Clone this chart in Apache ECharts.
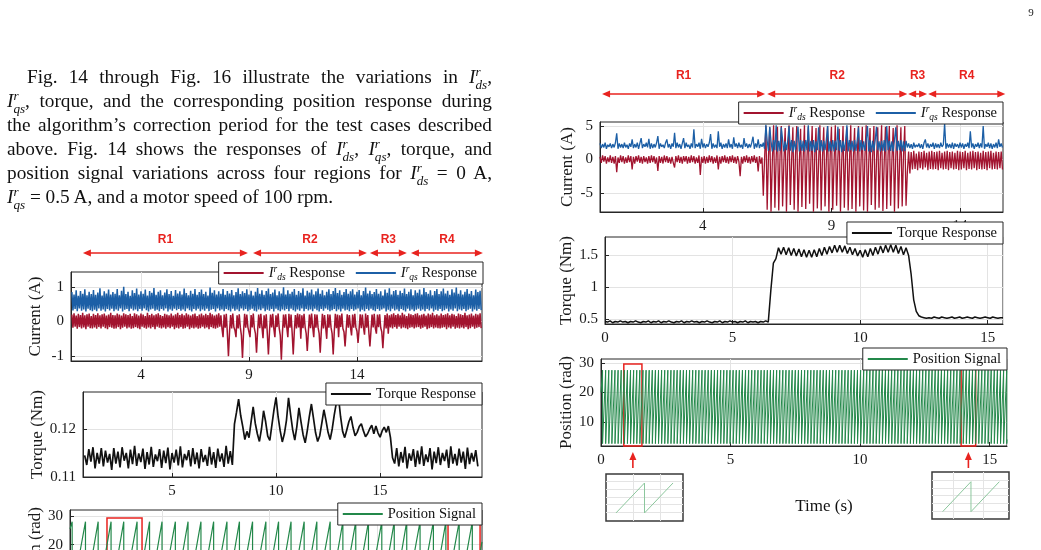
<!DOCTYPE html>
<html>
<head>
<meta charset="utf-8">
<script src="https://cdn.jsdelivr.net/npm/echarts@6/dist/echarts.min.js"></script>
<style>
html, body { margin: 0; padding: 0; background: #fff; }
#container { position: absolute; left: 0; top: 0; width: 1041px; height: 550px; }
#para { position: absolute; left: 7px; top: 65px; width: 485px; font-family: "Liberation Serif", "Times New Roman", serif; font-size: 19.3px; color: #111; }
#para .ln { height: 24px; line-height: 24px; text-align: justify; text-align-last: justify; }
#para .ind { text-indent: 20px; }
#para .last { text-align-last: left; }
.ix { display: inline-flex; flex-direction: column; font-size: 0.68em; line-height: 0.92; vertical-align: 0.5em; font-style: italic; text-indent: 0; }
</style>
</head>
<body>
<div id="container"></div>
<div id="para">
<div class="ln ind">Fig. 14 through Fig. 16 illustrate the variations in <i>I</i><span class="ix"><span>r</span><span>ds</span></span>,</div>
<div class="ln"><i>I</i><span class="ix"><span>r</span><span>qs</span></span>, torque, and the corresponding position response during</div>
<div class="ln">the algorithm’s correction period for the test cases described</div>
<div class="ln">above. Fig. 14 shows the responses of <i>I</i><span class="ix"><span>r</span><span>ds</span></span>, <i>I</i><span class="ix"><span>r</span><span>qs</span></span>, torque, and</div>
<div class="ln">position signal variations across four regions for <i>I</i><span class="ix"><span>r</span><span>ds</span></span> = 0 A,</div>
<div class="ln last"><i>I</i><span class="ix"><span>r</span><span>qs</span></span> = 0.5 A, and a motor speed of 100 rpm.</div>
</div>
<script>
// ---------- right figure: currents sampled every 0.05 s from t = 0 ----------
var tStepCurR = 0.05;
var idsR = [
  0.4,-0.5,0.6,-0.3,0.5,-0.6,0.3,-0.4,0.6,-0.5,0.4,-0.6,0.5,-1.9,0.3,-0.5,0.6,-0.4,0.5,-0.6,
  0.3,-0.5,0.6,-0.4,0.5,-1.5,0.4,-0.6,0.5,-0.3,0.6,-0.5,0.4,-0.6,0.5,-0.4,0.3,-0.6,0.5,-0.5,
  0.6,-0.4,0.5,-0.6,0.3,-1.7,0.5,-0.5,0.4,-0.6,0.6,-0.4,0.5,-0.5,0.3,-0.6,0.4,-0.5,-1.2,0.5,
  -0.4,0.6,-0.5,0.4,-0.6,0.5,-0.3,0.5,-0.6,0.4,-0.5,0.6,-0.4,0.5,-0.6,0.3,-0.5,0.6,-2.3,0.4,
  -0.5,0.5,-0.6,0.4,-0.5,0.6,-0.4,0.5,-0.6,0.3,-0.5,0.6,-1.5,0.4,-0.6,0.5,-0.4,0.6,-0.5,0.4,
  -0.6,0.5,-0.4,0.6,-0.5,0.4,-0.6,0.5,-0.3,-2.5,0.4,-0.6,0.5,-0.4,0.6,-0.5,0.4,-0.6,0.5,-0.4,
  0.6,-0.5,0.4,-1.8,0.5,-0.6,0.3,-5.4,0.2,5.0,-7.5,0.4,4.8,-7.8,-0.3,5.1,-7.2,0.3,4.9,-7.6,
  0.5,5.0,-7.0,-0.4,4.7,-7.8,0.3,5.1,-6.8,-0.2,4.8,-7.5,0.6,5.0,-7.8,-0.5,4.6,-7.1,0.2,5.1,
  -7.4,0.4,4.9,-6.6,-0.3,5.0,-7.8,0.5,4.7,-7.3,-0.4,5.1,-7.6,0.3,4.8,-7.0,-0.2,5.0,-7.8,0.6,
  4.9,-7.5,-0.5,5.1,-6.9,0.2,4.6,-7.8,-0.3,5.0,-7.2,0.4,4.8,-7.6,-0.4,5.1,-7.4,0.3,4.7,-7.8,
  0.5,5.0,-7.0,-0.2,4.9,-7.6,0.3,5.1,-7.8,-0.5,4.7,-6.8,0.4,5.0,-7.5,-0.3,4.8,-7.2,0.2,5.1,
  -7.7,-0.4,4.9,-7.4,0.5,5.0,-6.9,-0.2,4.7,-7.8,0.3,5.1,-7.3,-0.5,4.8,-7.0,0.4,5.0,-6.9,-2.0,
  1.2,-2.1,1.1,-1.5,1.3,-1.4,0.9,-1.6,1.2,-1.3,1.1,-1.5,1.3,-1.2,1.0,-1.6,1.2,-1.4,1.3,-1.5,
  1.1,-1.4,1.2,-1.6,1.3,-1.3,1.0,-1.5,1.2,-1.4,1.3,-1.6,1.1,-1.3,1.2,-1.5,1.0,-1.4,1.3,-1.6,
  1.2,-1.5,1.1,-1.3,1.3,-1.6,1.0,-1.4,1.2,-1.5,1.3,-1.3,1.1,-1.6,1.2,-1.4,1.0,-1.5,1.3,-1.4,
  1.1,-1.6,1.2,-1.3,1.3,-1.5,1.0,-1.4,1.2,-1.5,1.1,-1.3,1.2,-1.5
];
var iqsR = [
  2.4,1.7,2.3,1.8,2.5,1.6,2.2,1.9,2.4,1.7,2.3,1.8,2.5,3.9,1.6,2.4,1.8,2.3,1.7,2.5,
  1.8,2.2,1.6,2.4,1.9,3.0,1.7,2.3,1.8,2.5,1.6,2.4,3.2,1.7,2.3,1.9,2.5,1.8,3.1,1.6,
  2.4,1.7,2.3,1.8,2.5,3.5,1.6,2.4,1.9,2.2,1.7,2.5,3.0,1.8,2.3,1.6,2.4,1.9,4.0,1.7,
  2.5,1.8,2.3,1.6,2.4,3.2,1.7,2.5,1.9,2.2,1.6,2.4,1.8,4.5,1.7,2.3,1.9,2.5,1.6,3.1,
  1.8,2.4,1.7,2.3,1.9,2.5,3.8,1.6,2.4,1.8,2.2,1.7,4.2,1.9,2.5,1.6,2.3,1.8,2.4,1.7,
  3.0,1.8,2.3,1.6,3.3,1.9,2.4,1.7,2.5,1.8,2.2,1.6,3.2,1.9,2.4,1.7,2.3,1.8,2.5,3.4,
  1.6,2.4,1.8,3.0,1.7,2.3,1.9,2.5,1.6,5.2,2.8,1.3,4.9,2.7,1.2,2.9,1.4,5.1,1.2,2.8,
  1.3,4.8,2.9,1.2,2.7,1.4,2.8,5.0,1.3,2.9,1.1,2.8,1.4,2.7,4.9,1.2,2.9,1.3,2.8,1.2,
  2.9,1.4,5.1,1.2,2.8,1.3,2.9,1.1,2.7,1.4,4.8,1.3,2.9,1.2,2.8,1.4,2.9,5.0,1.2,2.7,
  1.3,2.9,1.2,2.8,1.4,4.9,1.3,2.9,1.1,2.8,1.3,2.7,5.1,1.2,2.9,1.4,2.8,1.2,2.9,1.3,
  2.8,4.8,1.2,2.9,1.4,2.7,1.3,2.8,5.0,1.2,2.9,1.1,2.8,1.3,2.9,4.9,1.4,2.7,1.2,2.8,
  1.3,2.9,1.2,5.0,1.4,2.8,1.3,2.7,1.2,2.9,4.8,1.3,2.8,1.4,2.9,1.2,2.7,1.3,2.8,1.8,
  2.4,1.7,2.3,1.6,2.5,1.8,2.2,1.9,2.4,1.7,2.3,1.6,2.5,3.0,1.8,2.4,1.7,2.3,1.9,2.5,
  1.6,2.4,1.8,2.3,1.7,2.5,1.9,2.2,5.4,1.6,2.4,1.8,2.3,1.7,2.5,1.6,2.4,1.9,2.3,1.7,
  2.5,1.8,2.4,1.6,2.3,1.9,2.5,1.7,4.2,1.8,2.4,1.6,2.3,1.9,2.5,1.7,2.4,1.8,5.0,1.6,
  2.3,1.9,2.5,1.7,2.4,1.6,2.3,1.8,2.5,1.7,3.0,1.9,2.4,1.8
];
// torque sampled every 0.1 s from t = 0
var tStepTqR = 0.1;
var torqueR = [
  0.46,0.45,0.47,0.44,0.46,0.45,0.47,0.45,0.46,0.44,
  0.46,0.45,0.47,0.45,0.44,0.46,0.45,0.47,0.44,0.46,
  0.45,0.47,0.44,0.46,0.45,0.47,0.45,0.44,0.46,0.45,
  0.47,0.44,0.46,0.45,0.47,0.45,0.46,0.44,0.46,0.45,
  0.47,0.45,0.44,0.46,0.45,0.47,0.44,0.46,0.45,0.47,
  0.45,0.46,0.44,0.46,0.45,0.47,0.44,0.46,0.45,0.46,
  0.44,0.46,0.45,0.47,0.45,0.95,1.38,1.45,1.62,1.52,
  1.63,1.51,1.62,1.50,1.61,1.49,1.60,1.48,1.59,1.47,
  1.58,1.47,1.59,1.48,1.61,1.50,1.63,1.52,1.64,1.54,
  1.66,1.55,1.66,1.55,1.65,1.53,1.63,1.51,1.61,1.49,
  1.58,1.47,1.59,1.48,1.61,1.50,1.63,1.52,1.65,1.54,
  1.66,1.55,1.67,1.55,1.66,1.53,1.64,1.51,1.62,1.50,
  1.20,0.80,0.62,0.55,0.53,0.52,0.51,0.52,0.51,0.53,
  0.52,0.51,0.53,0.52,0.51,0.52,0.53,0.51,0.52,0.53,
  0.51,0.52,0.53,0.52,0.51,0.53,0.52,0.51,0.52,0.53,
  0.52,0.51,0.53,0.52,0.51,0.52,0.52
];
// sawtooth position: times where it reaches the top and resets
var posPeakR = [
  0.06,0.18,0.30,0.42,0.54,0.66,0.78,0.90,1.02,1.14,1.26,1.38,1.50,1.62,1.74,1.86,1.98,2.10,2.22,2.34,
  2.46,2.58,2.70,2.82,2.94,3.06,3.18,3.30,3.42,3.54,3.66,3.78,3.90,4.02,4.14,4.26,4.38,4.50,4.62,4.74,
  4.86,4.98,5.10,5.22,5.34,5.46,5.58,5.70,5.82,5.94,6.06,6.18,6.30,6.42,6.54,6.66,6.78,6.90,7.02,7.14,
  7.26,7.38,7.50,7.62,7.74,7.86,7.98,8.10,8.22,8.34,8.46,8.58,8.70,8.82,8.94,9.06,9.18,9.30,9.42,9.54,
  9.66,9.78,9.90,10.02,10.14,10.26,10.38,10.50,10.62,10.74,10.86,10.98,11.10,11.22,11.34,11.46,11.58,11.70,11.82,11.94,
  12.06,12.18,12.30,12.42,12.54,12.66,12.78,12.90,13.02,13.14,13.26,13.38,13.50,13.62,13.74,13.86,13.98,14.10,14.22,14.34,
  14.46,14.58,14.70,14.82,14.94,15.06,15.18,15.30,15.42,15.54,15.66
];
var posLoR = 2.6, posHiR = 27.6;
var posStartR = [0, 20], posEndR = [15.67, 4.0];
// zoom insets (two teeth each)
var insetLT = [0.90, 1.02, 1.02, 1.14];
var insetLV = [2.6, 27.6, 2.6, 27.6];
var insetRT = [14.10, 14.22, 14.22, 14.34];
var insetRV = [2.6, 27.6, 2.6, 27.6];
// red boxes [t0, t1, top]
var boxesR = [[0.88, 1.58, 29.7], [13.9, 14.46, 28.7]];
var regionsR = [[0.08, 6.42], [6.5, 11.95], [11.98, 12.72], [12.76, 15.76]];

// ---------- left figure: currents every 0.05 s from t = 0.8 ----------
var tStartL = 0.8, tStepCurL = 0.05, tStepTqL = 0.1;
var idsL = [
  0.2,-0.18,0.24,-0.15,0.17,-0.21,0.22,-0.16,0.19,-0.2,0.25,-0.17,0.18,-0.22,0.21,-0.15,0.23,-0.19,0.16,-0.2,
  0.22,-0.17,0.19,-0.21,0.24,-0.16,0.18,-0.2,0.21,-0.15,0.23,-0.19,0.17,-0.22,0.2,-0.16,0.25,-0.18,0.19,-0.21,
  0.18,-0.2,0.23,-0.16,0.2,-0.22,0.17,-0.18,0.24,-0.15,0.21,-0.2,0.19,-0.17,0.22,-0.21,0.16,-0.19,0.24,-0.16,
  0.21,-0.19,0.17,-0.22,0.23,-0.15,0.2,-0.18,0.16,-0.21,0.25,-0.17,0.19,-0.2,0.22,-0.16,0.18,-0.22,0.21,-0.15,
  0.24,-0.18,0.19,-0.2,0.16,-0.17,0.22,-0.21,0.2,-0.16,0.18,-0.19,0.23,-0.15,0.17,-0.22,0.21,-0.18,0.25,-0.2,
  0.19,-0.16,0.22,-0.21,0.18,-0.19,0.24,-0.15,0.2,-0.22,0.17,-0.18,0.21,-0.2,0.23,-0.17,0.16,-0.21,0.2,-0.19,
  0.23,-0.15,0.18,-0.2,0.22,-0.17,0.19,-0.22,0.25,-0.16,0.21,-0.19,0.17,-0.21,0.2,-0.18,0.24,-0.15,0.18,-0.2,
  -0.45,0.2,-0.18,0.22,-0.35,-1.0,-0.3,0.19,-0.2,0.23,-0.16,-0.25,-0.45,0.18,-0.2,0.21,-0.17,-0.4,-1.05,-0.3,
  0.22,-0.18,0.2,-0.16,-0.2,-0.45,0.19,-0.17,0.23,-0.2,-0.35,-0.9,-0.28,0.2,-0.19,0.22,-0.15,-0.48,0.18,-0.2,
  0.21,-0.35,-0.95,-0.3,0.2,-0.17,0.22,-0.2,-0.45,0.18,-0.16,0.23,-0.19,-0.4,-1.1,-0.32,0.2,-0.18,0.21,-0.16,
  -0.45,0.22,-0.18,0.2,-0.33,-0.95,-0.28,0.19,-0.2,0.23,-0.17,0.21,-0.5,0.18,-0.19,0.22,-0.16,-0.35,-0.85,-0.3,
  0.2,-0.19,0.23,-0.16,-0.45,0.21,-0.18,0.2,-0.17,-0.35,-0.9,-0.27,0.22,-0.2,0.19,-0.16,-0.5,0.21,-0.18,0.2,
  -0.17,-0.35,-0.95,-0.3,0.22,-0.19,0.2,-0.45,0.18,-0.16,0.23,-0.2,-0.3,-0.72,-0.25,0.21,-0.18,0.19,-0.16,-0.4,
  0.2,-0.18,0.22,-0.17,-0.28,-0.62,-0.22,0.21,-0.19,0.2,-0.16,-0.38,0.23,-0.18,0.19,-0.3,-0.72,-0.26,0.2,-0.17,
  0.22,-0.19,-0.35,0.2,-0.16,0.21,-0.18,-0.3,-0.77,-0.24,0.19,-0.2,0.23,-0.35,0.18,-0.17,0.21,-0.2,0.24,-0.16,
  0.19,-0.21,0.22,-0.15,0.18,-0.2,0.25,-0.17,0.2,-0.19,0.16,-0.22,0.23,-0.18,0.21,-0.16,0.19,-0.2,0.22,-0.17,
  0.24,-0.16,0.18,-0.21,0.2,-0.18,0.22,-0.15,0.17,-0.22,0.23,-0.19,0.2,-0.16,0.25,-0.2,0.18,-0.17,0.21,-0.19,
  0.17,-0.2,0.23,-0.18,0.19,-0.16,0.21,-0.22,0.24,-0.17,0.18,-0.2,0.22,-0.15,0.2,-0.21,0.16,-0.18,0.23,-0.2,
  0.21,-0.17,0.19,-0.2,0.25,-0.16,0.18,-0.22,0.2,-0.19,0.23,-0.15,0.17,-0.21,0.22,-0.18,0.2,-0.16,0.24,-0.19
];
var iqsL = [
  0.85,0.32,0.78,0.36,0.9,0.3,0.74,0.38,0.88,0.31,0.8,0.35,0.93,0.29,0.76,0.37,0.86,0.33,0.79,0.3,
  0.91,0.34,0.77,0.3,0.84,0.38,0.96,0.31,0.75,0.35,0.87,0.29,0.81,0.36,0.92,0.32,0.78,0.37,0.85,0.3,
  0.8,0.35,0.94,0.31,0.76,0.38,0.89,0.29,1.0,0.34,0.79,0.36,0.86,0.3,0.74,0.37,0.9,0.32,0.82,0.35,
  0.95,0.3,0.78,0.36,0.87,0.31,0.8,0.38,0.92,0.33,0.75,0.29,0.88,0.35,0.83,0.37,0.97,0.31,0.77,0.34,
  0.86,0.3,0.9,0.36,0.76,0.32,0.84,0.38,0.93,0.29,0.79,0.35,0.88,0.31,0.74,0.37,0.91,0.33,0.81,0.36,
  0.87,0.31,0.78,0.35,0.95,0.3,0.82,0.38,0.76,0.33,0.89,0.29,0.8,0.36,0.94,0.32,0.77,0.37,0.85,0.3,
  0.92,0.35,0.79,0.31,0.86,0.37,0.75,0.3,0.98,0.34,0.83,0.36,0.9,0.29,0.78,0.38,0.87,0.32,0.8,0.35,
  0.94,0.3,0.77,0.36,0.88,0.33,0.81,0.29,0.91,0.37,0.76,0.31,0.85,0.35,0.96,0.3,0.79,0.38,0.87,0.32,
  0.82,0.36,0.93,0.3,0.78,0.34,0.89,0.37,0.75,0.31,0.86,0.29,0.97,0.35,0.8,0.33,0.9,0.38,0.77,0.3,
  0.88,0.34,0.95,0.31,0.79,0.36,0.84,0.29,0.92,0.37,0.76,0.33,0.87,0.3,0.81,0.35,0.99,0.32,0.78,0.36,
  0.9,0.3,0.8,0.37,0.86,0.33,0.94,0.29,0.77,0.35,0.88,0.31,0.83,0.38,0.96,0.3,0.75,0.36,0.89,0.32,
  0.84,0.35,0.92,0.3,0.78,0.37,0.87,0.33,0.95,0.29,0.8,0.36,0.9,0.31,0.76,0.38,0.86,0.34,0.93,0.3,
  0.79,0.33,0.88,0.36,0.97,0.3,0.82,0.35,0.9,0.29,0.77,0.37,0.85,0.32,0.94,0.34,0.8,0.3,0.87,0.36,
  0.93,0.31,0.78,0.35,0.86,0.38,0.91,0.29,0.76,0.34,0.88,0.3,0.98,0.36,0.81,0.32,0.89,0.37,0.79,0.33,
  0.85,0.3,0.94,0.36,0.8,0.31,0.87,0.35,0.75,0.38,0.92,0.29,0.83,0.34,0.96,0.3,0.78,0.37,0.88,0.32,
  0.91,0.35,0.77,0.3,0.89,0.36,0.82,0.33,0.95,0.29,0.79,0.37,0.86,0.31,0.93,0.35,0.76,0.3,0.9,0.34,
  0.83,0.37,0.92,0.31,0.78,0.35,0.97,0.3,0.85,0.36,0.8,0.32,0.9,0.38,0.76,0.29,0.88,0.34,0.94,0.31,
  0.79,0.36,0.87,0.3,0.95,0.33,0.81,0.37,0.89,0.29,0.77,0.35,0.93,0.31,0.84,0.38,0.98,0.3,0.8,0.35,
  0.9,0.32,0.78,0.36,0.86,0.3,0.94,0.34,0.8,0.37,0.88,0.29,0.76,0.35,0.92,0.31,0.85,0.36,0.89,0.33
];
var torqueL = [
  0.1145,0.1125,0.1158,0.1132,0.1162,0.1118,0.1150,0.1128,0.1160,0.1122,
  0.1155,0.1130,0.1148,0.1115,0.1160,0.1128,0.1153,0.1120,0.1162,0.1134,
  0.1150,0.1118,0.1157,0.1127,0.1165,0.1123,0.1149,0.1131,0.1159,0.1117,
  0.1152,0.1126,0.1163,0.1121,0.1147,0.1133,0.1158,0.1119,0.1155,0.1129,
  0.1161,0.1116,0.1150,0.1130,0.1157,0.1124,0.1164,0.1120,0.1148,0.1135,
  0.1156,0.1122,0.1160,0.1127,0.1151,0.1118,0.1158,0.1131,0.1146,0.1123,
  0.1163,0.1126,0.1152,0.1119,0.1159,0.1132,0.1149,0.1121,0.1165,0.1128,
  0.1154,0.1125,0.1210,0.1235,0.1262,0.1228,0.1205,0.1178,0.1195,0.1182,
  0.1215,0.1246,0.1212,0.1190,0.1174,0.1200,0.1238,0.1215,0.1185,0.1176,
  0.1208,0.1240,0.1266,0.1225,0.1196,0.1173,0.1190,0.1218,0.1265,0.1230,
  0.1198,0.1177,0.1205,0.1244,0.1215,0.1188,0.1171,0.1196,0.1226,0.1252,
  0.1222,0.1192,0.1174,0.1186,0.1212,0.1240,0.1218,0.1193,0.1178,0.1200,
  0.1230,0.1255,0.1267,0.1226,0.1195,0.1182,0.1198,0.1215,0.1226,0.1203,
  0.1186,0.1193,0.1205,0.1211,0.1196,0.1184,0.1190,0.1200,0.1208,0.1190,
  0.1206,0.1192,0.1183,0.1196,0.1204,0.1193,0.1206,0.1182,0.1140,0.1128,
  0.1160,0.1122,0.1152,0.1130,0.1163,0.1118,0.1149,0.1134,0.1158,0.1121,
  0.1155,0.1127,0.1164,0.1123,0.1147,0.1131,0.1160,0.1116,0.1153,0.1129,
  0.1162,0.1125,0.1150,0.1133,0.1157,0.1119,0.1164,0.1128,0.1148,0.1124,
  0.1159,0.1130,0.1153,0.1117,0.1161,0.1127,0.1150,0.1132,0.1156,0.1122
];
var posPeakL = [
  0.82,1.44,2.03,2.63,3.22,3.84,4.42,5.0,5.62,6.21,6.81,7.40,8.02,8.6,9.21,9.83,
  10.42,11.0,11.61,12.2,12.82,13.41,14.01,14.6,15.22,15.8,16.38,17.0,17.62,18.2,18.82,19.43
];
var posLoL = 2.6, posHiL = 28.0;
var posStartL = [0.72, 25.5], posEndL = [19.88, 21.0];
var boxesL = [[2.44, 4.07, 29.3], [18.3, 19.79, 27.6]];
var regionsL = [[1.31, 8.95], [9.19, 14.46], [14.6, 16.31], [16.5, 19.83]];
var regionNames = ['R1', 'R2', 'R3', 'R4'];

// ---------- helpers ----------
var serif = '"Liberation Serif", "Times New Roman", serif';
var red = '#e8231f';
var cRed = '#a2142f', cBlue = '#1c5fa6', cGreen = '#23884a';

function sampled(t0, step, values) {
  return values.map(function (v, i) {
    return [Math.round((t0 + i * step) * 1000) / 1000, v];
  });
}
function sawtooth(start, peaks, lo, hi, end) {
  var pts = [start];
  peaks.forEach(function (p) { pts.push([p, hi]); pts.push([p, lo]); });
  pts.push(end);
  return pts;
}
function pairs(ts, vs) {
  return ts.map(function (t, i) { return [t, vs[i]]; });
}
function valAxis(grid, min, max, ticks, extra) {
  var a = {
    type: 'value', gridIndex: grid, min: min, max: max,
    axisLine: { show: true, onZero: false, lineStyle: { color: '#262626', width: 1 } },
    axisTick: { show: true, inside: true, length: 4, lineStyle: { color: '#262626' } },
    axisLabel: { color: '#1a1a1a', fontFamily: serif, fontSize: 15, margin: 7 },
    splitLine: { show: true, lineStyle: { color: '#e3e3e3', width: 1 } }
  };
  if (Array.isArray(ticks)) {
    a.axisTick.customValues = ticks;
    a.axisLabel.customValues = ticks;
  } else {
    a.interval = ticks;
  }
  for (var k in (extra || {})) a[k] = extra[k];
  return a;
}
function yName(name, gap) {
  return {
    name: name, nameLocation: 'middle', nameGap: gap,
    nameTextStyle: { fontFamily: serif, fontSize: 17, color: '#1a1a1a' }
  };
}
function boxAreas(boxes, bottom) {
  return boxes.map(function (b) { return [{ coord: [b[0], bottom] }, { coord: [b[1], b[2]] }]; });
}
function line(name, x, data, color, width, extra) {
  var s = {
    name: name, type: 'line', xAxisIndex: x, yAxisIndex: x, data: data,
    symbol: 'none', showSymbol: false, animation: false,
    lineStyle: { color: color, width: width }, itemStyle: { color: color }
  };
  for (var k in (extra || {})) s[k] = extra[k];
  return s;
}

var legendText = {
  idsR: '{i|I}{sp|r}{sb|ds} Response', iqsR: '{i|I}{sp|r}{sb|qs} Response',
  idsL: '{i|I}{sp|r}{sb|ds} Response', iqsL: '{i|I}{sp|r}{sb|qs} Response',
  torqueR: 'Torque Response', torqueL: 'Torque Response',
  posR: 'Position Signal', posL: 'Position Signal'
};
function legend(names, right, top) {
  return {
    data: names, right: right, top: top, orient: 'horizontal',
    padding: [2, 6, 2, 5], itemGap: 11, itemWidth: 40, itemHeight: 2, icon: 'rect',
    backgroundColor: '#fff', borderColor: '#262626', borderWidth: 1,
    selectedMode: false,
    formatter: function (n) { return legendText[n]; },
    textStyle: {
      fontFamily: serif, fontSize: 14.5, color: '#111', lineHeight: 18,
      rich: {
        i: { fontFamily: serif, fontSize: 14.5, fontStyle: 'italic', lineHeight: 18 },
        sp: { fontFamily: serif, fontSize: 9.5, fontStyle: 'italic', verticalAlign: 'top', lineHeight: 18 },
        sb: { fontFamily: serif, fontSize: 9.5, fontStyle: 'italic', verticalAlign: 'bottom', lineHeight: 18 }
      }
    }
  };
}

function grid(l, t, w, h, extra) {
  var g = {
    left: l, top: t, width: w, height: h, containLabel: false, outerBoundsMode: 'none',
    show: true, borderColor: '#262626', borderWidth: 1, backgroundColor: 'transparent'
  };
  for (var k in (extra || {})) g[k] = extra[k];
  return g;
}
var insetBorder = { borderColor: '#3a3a3a', borderWidth: 1.5 };

var option = {
  animation: false,
  backgroundColor: '#fff',
  grid: [
    grid(600, 122, 403, 90),
    grid(605, 237, 398, 87),
    grid(601, 359, 406, 87),
    grid(71, 272, 411, 89),
    grid(83, 392, 399, 85),
    grid(70, 510, 412, 87),
    grid(606, 474, 77, 47, insetBorder),
    grid(932, 472, 77, 47, insetBorder)
  ],
  xAxis: [
    valAxis(0, 0, 15.67, [4, 9, 14]),
    valAxis(1, 0, 15.6, 5),
    valAxis(2, 0, 15.67, 5, {
      name: 'Time (s)', nameLocation: 'middle', nameGap: 52,
      nameTextStyle: { fontFamily: serif, fontSize: 17, color: '#111', padding: [0, 0, 0, 40] }
    }),
    valAxis(3, 0.76, 19.79, [4, 9, 14]),
    valAxis(4, 0.72, 19.9, [5, 10, 15]),
    valAxis(5, 0.72, 19.88, [5, 10, 15]),
    valAxis(6, 0.858, 1.182, [0.972, 1.085]),
    valAxis(7, 14.055, 14.381, [14.145, 14.27])
  ],
  yAxis: [
    valAxis(0, -7.84, 5.6, [-5, 0, 5], yName('Current (A)', 24)),
    valAxis(1, 0.42, 1.79, [0.5, 1, 1.5], yName('Torque (Nm)', 28)),
    valAxis(2, 1.8, 31.4, [10, 20, 30], yName('Position (rad)', 24)),
    valAxis(3, -1.14, 1.43, [-1, 0, 1], yName('Current (A)', 27)),
    valAxis(4, 0.11, 0.1277, [0.11, 0.12], yName('Torque (Nm)', 35)),
    valAxis(5, 1.8, 32.07, [10, 20, 30], yName('Position (rad)', 26)),
    valAxis(6, -4.1, 35.1, [3, 9.5, 16, 22.5, 29]),
    valAxis(7, -3.5, 35.7, [3, 9.5, 16, 22.5, 29])
  ],
  legend: [
    legend(['idsR', 'iqsR'], 38, 102),
    legend(['torqueR'], 38, 222),
    legend(['posR'], 34, 348),
    legend(['idsL', 'iqsL'], 558, 262),
    legend(['torqueL'], 559, 383),
    legend(['posL'], 559, 503)
  ],
  series: [
    line('idsR', 0, sampled(0, tStepCurR, idsR), cRed, 1.3),
    line('iqsR', 0, sampled(0, tStepCurR, iqsR), cBlue, 1.3),
    line('torqueR', 1, sampled(0, tStepTqR, torqueR), '#111', 1.5),
    line('posR', 2, sawtooth(posStartR, posPeakR, posLoR, posHiR, posEndR), cGreen, 1, {
      clip: false,
      markArea: {
        silent: true,
        itemStyle: { color: 'rgba(0,0,0,0)', borderColor: red, borderWidth: 1.5 },
        data: boxAreas(boxesR, 1.0)
      }
    }),
    line('idsL', 3, sampled(tStartL, tStepCurL, idsL), cRed, 1.5),
    line('iqsL', 3, sampled(tStartL, tStepCurL, iqsL), cBlue, 1.5),
    line('torqueL', 4, sampled(tStartL, tStepTqL, torqueL), '#111', 1.7),
    line('posL', 5, sawtooth(posStartL, posPeakL, posLoL, posHiL, posEndL), cGreen, 1.2, {
      clip: false,
      markArea: {
        silent: true,
        itemStyle: { color: 'rgba(0,0,0,0)', borderColor: red, borderWidth: 1.5 },
        data: boxAreas(boxesL, 1.8)
      }
    }),
    line('insetL', 6, pairs(insetLT, insetLV), '#8cc79d', 1),
    line('insetR', 7, pairs(insetRT, insetRV), '#8cc79d', 1)
  ]
};
// inset axes: no labels, no ticks
[6, 7].forEach(function (i) {
  [option.xAxis[i], option.yAxis[i]].forEach(function (a) {
    a.axisLabel.show = false;
    a.axisTick.length = 0;
    a.axisLine.show = false;
    a.splitLine.lineStyle.color = '#e4e4e4';
  });
});

var chart = echarts.init(document.getElementById('container'), null, { renderer: 'canvas' });
chart.setOption(option);

// region arrows above the current plots, placed through the x scales
function hArrow(x1, x2, y) {
  var h = 8, w = 3.5;
  return [
    { type: 'line', shape: { x1: x1 + h - 1, y1: y, x2: x2 - h + 1, y2: y }, style: { stroke: red, lineWidth: 1.6 } },
    { type: 'polygon', shape: { points: [[x1, y], [x1 + h, y - w], [x1 + h, y + w]] }, style: { fill: red } },
    { type: 'polygon', shape: { points: [[x2, y], [x2 - h, y - w], [x2 - h, y + w]] }, style: { fill: red } }
  ];
}
function vArrow(x, yTop, yBot) {
  return [
    { type: 'line', shape: { x1: x, y1: yBot, x2: x, y2: yTop + 7 }, style: { stroke: red, lineWidth: 1.6 } },
    { type: 'polygon', shape: { points: [[x, yTop], [x - 3.5, yTop + 8], [x + 3.5, yTop + 8]] }, style: { fill: red } }
  ];
}
var gfx = [];
function regions(list, axisIdx, yLabel, yArrow) {
  list.forEach(function (r, k) {
    var x1 = chart.convertToPixel({ xAxisIndex: axisIdx }, r[0]);
    var x2 = chart.convertToPixel({ xAxisIndex: axisIdx }, r[1]);
    gfx = gfx.concat(hArrow(x1, x2, yArrow));
    gfx.push({
      type: 'text', x: (x1 + x2) / 2, y: yLabel,
      style: { text: regionNames[k], fill: red, font: 'bold 12px "Liberation Sans", Arial, sans-serif', textAlign: 'center', textVerticalAlign: 'middle' }
    });
  });
}
regions(regionsR, 0, 76, 94);
regions(regionsL, 3, 240, 253);
boxesR.forEach(function (b) {
  var x = chart.convertToPixel({ xAxisIndex: 2 }, (b[0] + b[1]) / 2);
  gfx = gfx.concat(vArrow(x, 452, 468));
});
gfx.push({
  type: 'text', x: 1031, y: 13,
  style: { text: '9', fill: '#222', font: '11px "Liberation Serif", serif', textAlign: 'center', textVerticalAlign: 'middle' }
});
chart.setOption({ graphic: gfx });
</script>
</body>
</html>
